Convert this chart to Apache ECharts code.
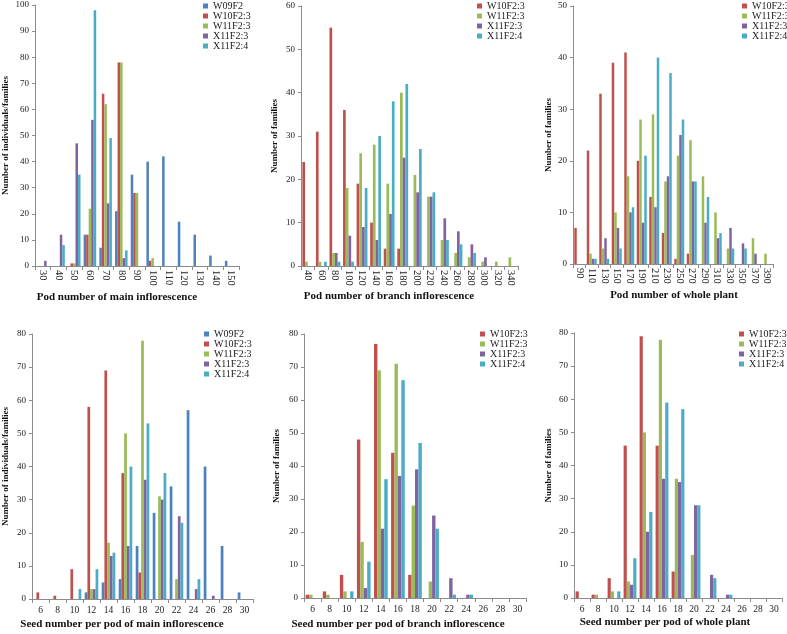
<!DOCTYPE html>
<html>
<head>
<meta charset="utf-8">
<script src="https://cdn.jsdelivr.net/npm/echarts@6/dist/echarts.min.js"></script>
<style>
html,body{margin:0;padding:0;background:#fff;}
#main{width:787px;height:634px;}
</style>
</head>
<body>
<div id="main"></div>
<script>
// categories
var podMainCats = ['30','40','50','60','70','80','90','100','110','120','130','140','150'];
var podBranchCats = ['40','60','80','100','120','140','160','180','200','220','240','260','280','300','320','340'];
var podWholeCats = ['90','110','130','150','170','190','210','230','250','270','290','310','330','350','370','390'];
var seedCats = ['6','8','10','12','14','16','18','20','22','24','26','28','30'];

// pod number of main inflorescence
var podMainW09 = [0,0,0,12,7,21,35,40,42,17,12,4,2];
var podMainW10 = [0,0,1,12,66,78,28,2,0,0,0,0,0];
var podMainW11 = [0,0,1,22,62,78,28,3,0,0,0,0,0];
var podMainX3  = [2,12,47,56,24,3,0,0,0,0,0,0,0];
var podMainX4  = [0,8,35,98,49,6,0,0,0,0,0,0,0];

// pod number of branch inflorescence
var podBranchW10 = [24,31,55,36,19,10,4,4,0,0,0,0,0,0,0,0];
var podBranchW11 = [1,1,3,18,26,28,19,40,21,16,6,3,2,1,1,2];
var podBranchX3  = [0,0,3,7,9,6,12,25,17,16,11,8,5,2,0,0];
var podBranchX4  = [0,1,1,1,18,30,38,42,27,17,6,5,3,0,0,0];

// pod number of whole plant
var podWholeW10 = [7,22,33,39,41,20,13,6,1,2,0,0,0,0,0,0];
var podWholeW11 = [0,2,3,10,17,28,29,16,21,24,17,10,3,0,5,2];
var podWholeX3  = [0,1,5,7,10,8,11,17,25,16,8,5,7,4,2,0];
var podWholeX4  = [0,1,1,3,11,21,40,37,28,16,13,6,3,3,0,0];

// seed number per pod of main inflorescence
var seedMainW09 = [0,0,0,2,5,6,16,26,34,57,40,16,2];
var seedMainW10 = [2,1,9,58,69,38,8,0,0,0,0,0,0];
var seedMainW11 = [0,0,0,3,17,50,78,31,6,0,0,0,0];
var seedMainX3  = [0,0,0,3,13,16,36,30,25,3,1,0,0];
var seedMainX4  = [0,0,3,9,14,40,53,38,23,6,0,0,0];

// seed number per pod of branch inflorescence
var seedBranchW10 = [1,2,7,48,77,44,7,0,0,0,0,0,0];
var seedBranchW11 = [1,1,2,17,69,71,28,5,0,0,0,0,0];
var seedBranchX3  = [0,0,0,3,21,37,39,25,6,1,0,0,0];
var seedBranchX4  = [0,0,2,11,36,66,47,21,1,1,0,0,0];

// seed number per pod of whole plant
var seedWholeW10 = [2,1,6,46,79,46,8,0,0,0,0,0,0];
var seedWholeW11 = [0,1,2,5,50,78,36,13,0,0,0,0,0];
var seedWholeX3  = [0,0,0,4,20,36,35,28,7,1,0,0,0];
var seedWholeX4  = [0,0,2,12,26,59,57,28,6,1,0,0,0];

var colors = {'W09F2':'#4F81BD','W10F2:3':'#C0504D','W11F2:3':'#9BBB59','X11F2:3':'#8064A2','X11F2:4':'#4BACC6'};
var serif = '"Liberation Serif","Times New Roman",serif';

var panels = [
  {grid:{left:32,top:5,width:207,height:261}, cats:podMainCats, max:100, rot:-90, lab:10.5,
   yName:'Number of individuals/families', gap:25,
   data:[['W09F2',podMainW09],['W10F2:3',podMainW10],['W11F2:3',podMainW11],['X11F2:3',podMainX3],['X11F2:4',podMainX4]],
   title:'Pod number of main inflorescence', tx:117, ty:297, lx:203, ly:1},
  {grid:{left:301,top:6,width:217,height:260}, cats:podBranchCats, max:60, rot:-90, lab:10.5,
   yName:'Number of families', gap:22,
   data:[['W10F2:3',podBranchW10],['W11F2:3',podBranchW11],['X11F2:3',podBranchX3],['X11F2:4',podBranchX4]],
   title:'Pod number of branch inflorescence', tx:389, ty:296, lx:477, ly:1},
  {grid:{left:573,top:6,width:200,height:258}, cats:podWholeCats, max:50, rot:-90, lab:10.5,
   yName:'Number of families', gap:20,
   data:[['W10F2:3',podWholeW10],['W11F2:3',podWholeW11],['X11F2:3',podWholeX3],['X11F2:4',podWholeX4]],
   title:'Pod number of whole plant', tx:674, ty:295, lx:742, ly:1},
  {grid:{left:29,top:334,width:224,height:265}, cats:seedCats, max:80, rot:0, lab:9.5,
   yName:'Number of individuals/families', gap:22,
   data:[['W09F2',seedMainW09],['W10F2:3',seedMainW10],['W11F2:3',seedMainW11],['X11F2:3',seedMainX3],['X11F2:4',seedMainX4]],
   title:'Seed number per pod of main inflorescence', tx:122, ty:624, lx:204, ly:329},
  {grid:{left:304,top:334,width:222,height:264}, cats:seedCats, max:80, rot:0, lab:9.5,
   yName:'Number of families', gap:23,
   data:[['W10F2:3',seedBranchW10],['W11F2:3',seedBranchW11],['X11F2:3',seedBranchX3],['X11F2:4',seedBranchX4]],
   title:'Seed number per pod of branch inflorescence', tx:398, ty:624, lx:480, ly:329},
  {grid:{left:574,top:333,width:208,height:265}, cats:seedCats, max:80, rot:0, lab:9.5,
   yName:'Number of families', gap:21,
   data:[['W10F2:3',seedWholeW10],['W11F2:3',seedWholeW11],['X11F2:3',seedWholeX3],['X11F2:4',seedWholeX4]],
   title:'Seed number per pod of whole plant', tx:665, ty:622, lx:739, ly:329}
];

var grids = [], xAxes = [], yAxes = [], series = [], legends = [], texts = [];
panels.forEach(function(p, i){
  grids.push(p.grid);
  xAxes.push({
    type:'category', gridIndex:i, data:p.cats,
    axisLine:{lineStyle:{color:'#8c8c8c',width:1}},
    axisTick:{show:true,interval:0,length:4,lineStyle:{color:'#8c8c8c'}},
    axisLabel:{interval:0,rotate:p.rot,margin:p.rot ? 4 : 6,color:'#222',fontFamily:serif,fontSize:p.lab}
  });
  yAxes.push({
    type:'value', gridIndex:i, min:0, max:p.max, interval:10,
    name:p.yName, nameLocation:'middle', nameRotate:90, nameGap:p.gap,
    nameTextStyle:{fontFamily:serif,fontWeight:'bold',fontSize:9,color:'#111'},
    axisLine:{show:true,lineStyle:{color:'#8c8c8c',width:1}},
    axisTick:{show:true,length:3,lineStyle:{color:'#8c8c8c'}},
    splitLine:{show:false},
    axisLabel:{color:'#222',fontFamily:serif,fontSize:9,margin:6}
  });
  var names = [];
  p.data.forEach(function(d){
    names.push(d[0]);
    series.push({
      name:d[0], type:'bar', xAxisIndex:i, yAxisIndex:i, data:d[1],
      barGap:'0%', barCategoryGap:'20%',
      itemStyle:{color:colors[d[0]]}, silent:true
    });
  });
  legends.push({
    data:names, orient:'vertical', left:p.lx, top:p.ly, padding:0,
    itemWidth:5, itemHeight:5, itemGap:0, icon:'rect', selectedMode:false,
    textStyle:{fontFamily:serif,fontSize:10,color:'#222',lineHeight:10}
  });
  texts.push({
    type:'text', x:p.tx, y:p.ty,
    style:{text:p.title, textAlign:'center', textVerticalAlign:'middle',
      font:'bold 11px ' + serif, fill:'#111'}
  });
});

var chart = echarts.init(document.getElementById('main'));
chart.setOption({
  backgroundColor:'#fff',
  animation:false,
  grid:grids,
  xAxis:xAxes,
  yAxis:yAxes,
  legend:legends,
  series:series,
  graphic:texts
});
</script>
</body>
</html>
